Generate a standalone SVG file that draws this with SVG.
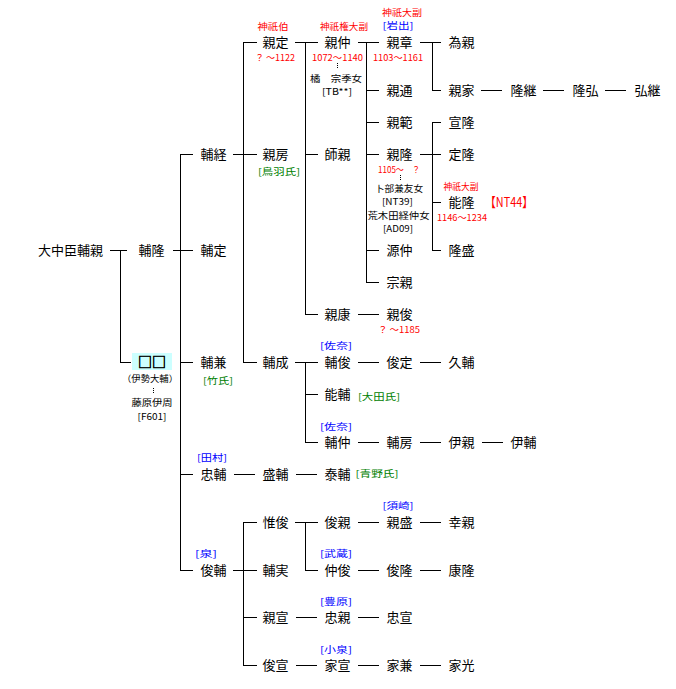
<svg xmlns="http://www.w3.org/2000/svg" width="676" height="689" viewBox="0 0 676 689">
<style>
text{font-family:"Noto Sans CJK JP","Noto Sans CJK SC",sans-serif;text-anchor:middle}
.n{font-size:13px;fill:#000}
.s{font-size:9px;fill:#000}
.r{font-size:9px;fill:#ff0000}
.b{font-size:9px;fill:#0000ff}
.g{font-size:9px;fill:#008000}
.big{font-size:13px;fill:#ff0000}
.sq{font-size:14px;fill:#000;stroke:#000;stroke-width:0.6}
#links path{fill:none;stroke:#000;stroke-width:1;shape-rendering:crispEdges}
#links path.dot{stroke-dasharray:1 1}
</style>
<rect width="676" height="689" fill="#fff"/>
<g id="links">
<path d="M110 250.5H127M120.5 250V362.5M120 362.5H131
M173 250.5H193M180.5 154V570.5M180 154.5H193M180 362.5H193M180 474.5H193M180 570.5H193
M233 154.5H257M243.5 42V362.5M243 42.5H257M243 362.5H257
M295 42.5H318M305.5 42V314.5M305 154.5H318M305 314.5H318
M358 42.5H379M366.5 42V282.5M366 90.5H379M366 122.5H379M366 154.5H379M366 250.5H379M366 282.5H379
M420 42.5H441M432.5 42V90.5M432 90.5H441
M420 154.5H441M432.5 122V250.5M432 122.5H441M432 202.5H441M432 250.5H441
M481 90.5H502M543 90.5H564M605 90.5H626
M358 314.5H379
M295 362.5H318M305.5 362V442.5M305 394.5H318M305 442.5H318
M358 362.5H379M420 362.5H441
M358 442.5H379M420 442.5H441M482 442.5H503
M234 474.5H255M296 474.5H317
M295 522.5H318M305.5 522V570.5M305 570.5H318
M358 522.5H379M420 522.5H441
M233 570.5H257M243.5 522V665.5M243 522.5H257M243 617.5H257M243 665.5H257
M358 570.5H379M420 570.5H441
M296 617.5H317M358 617.5H379
M296 665.5H317M358 665.5H379M420 665.5H441"/>
<path class="dot" d="M337.5 63V68M400.5 175V180M153.5 388V393"/>
</g>
<g id="n-sukechika"><text class="n" x="70.5" y="255">大中臣輔親</text></g>
<g id="n-suketaka"><text class="n" x="151.5" y="255">輔隆</text></g>
<g id="n-unknown"><rect x="132" y="353" width="40" height="17" fill="#ccffff"/><text class="sq" x="152" y="367">□□</text><text class="s" x="150" y="382" textLength="56" lengthAdjust="spacingAndGlyphs">（伊勢大輔）</text><text class="s" x="152" y="406" textLength="41" lengthAdjust="spacingAndGlyphs">藤原伊周</text><text class="s" x="152" y="420" textLength="29" lengthAdjust="spacingAndGlyphs">[F601]</text></g>
<g id="n-suketsune"><text class="n" x="213.5" y="159">輔経</text></g>
<g id="n-suketada"><text class="n" x="213.5" y="255">輔定</text></g>
<g id="n-sukekane"><text class="n" x="213.5" y="367">輔兼</text><text class="g" x="218" y="384" textLength="30" lengthAdjust="spacingAndGlyphs">[竹氏]</text></g>
<g id="n-tadasuke"><text class="b" x="212" y="461" textLength="30" lengthAdjust="spacingAndGlyphs">[田村]</text><text class="n" x="213.5" y="479">忠輔</text></g>
<g id="n-toshisuke"><text class="b" x="206" y="557" textLength="22" lengthAdjust="spacingAndGlyphs">[泉]</text><text class="n" x="213.5" y="575">俊輔</text></g>
<g id="n-chikasada"><text class="r" x="273" y="29.5" textLength="31" lengthAdjust="spacingAndGlyphs">神祇伯</text><text class="n" x="275.5" y="47">親定</text><text class="r" x="275" y="61" textLength="40" lengthAdjust="spacingAndGlyphs">？ ～1122</text></g>
<g id="n-chikafusa"><text class="n" x="275.5" y="159">親房</text><text class="g" x="279" y="175" textLength="42" lengthAdjust="spacingAndGlyphs">[鳥羽氏]</text></g>
<g id="n-sukenari"><text class="n" x="275.5" y="367">輔成</text></g>
<g id="n-morisuke"><text class="n" x="275.5" y="479">盛輔</text></g>
<g id="n-koreshun"><text class="n" x="275.5" y="527">惟俊</text></g>
<g id="n-sukezane"><text class="n" x="275.5" y="575">輔実</text></g>
<g id="n-chikanobu"><text class="n" x="275.5" y="622">親宣</text></g>
<g id="n-toshinobu"><text class="n" x="275.5" y="670">俊宣</text></g>
<g id="n-chikanaka"><text class="r" x="344" y="29.5" textLength="48" lengthAdjust="spacingAndGlyphs">神祇権大副</text><text class="n" x="337.5" y="47">親仲</text><text class="r" x="337.5" y="61" textLength="51" lengthAdjust="spacingAndGlyphs">1072～1140</text><text class="s" x="336" y="82" textLength="52" lengthAdjust="spacingAndGlyphs">橘　宗季女</text><text class="s" x="337" y="95" textLength="30" lengthAdjust="spacingAndGlyphs">[TB**]</text></g>
<g id="n-morochika"><text class="n" x="337.5" y="159">師親</text></g>
<g id="n-chikayasu"><text class="n" x="337.5" y="319">親康</text></g>
<g id="n-suketoshi"><text class="b" x="336" y="349" textLength="32" lengthAdjust="spacingAndGlyphs">[佐奈]</text><text class="n" x="337.5" y="367">輔俊</text></g>
<g id="n-yoshisuke"><text class="n" x="337.5" y="399">能輔</text><text class="g" x="379" y="400" textLength="42" lengthAdjust="spacingAndGlyphs">[大田氏]</text></g>
<g id="n-sukenaka"><text class="b" x="336" y="430" textLength="32" lengthAdjust="spacingAndGlyphs">[佐奈]</text><text class="n" x="337.5" y="447">輔仲</text></g>
<g id="n-yasusuke"><text class="n" x="337.5" y="479">泰輔</text><text class="g" x="377" y="477" textLength="43" lengthAdjust="spacingAndGlyphs">[青野氏]</text></g>
<g id="n-toshichika"><text class="n" x="337.5" y="527">俊親</text></g>
<g id="n-nakatoshi"><text class="b" x="336" y="557" textLength="32" lengthAdjust="spacingAndGlyphs">[武蔵]</text><text class="n" x="337.5" y="575">仲俊</text></g>
<g id="n-tadachika"><text class="b" x="336" y="605" textLength="32" lengthAdjust="spacingAndGlyphs">[豊原]</text><text class="n" x="337.5" y="622">忠親</text></g>
<g id="n-ienobu"><text class="b" x="336" y="653" textLength="32" lengthAdjust="spacingAndGlyphs">[小泉]</text><text class="n" x="337.5" y="670">家宣</text></g>
<g id="n-chikaaki"><text class="r" x="402" y="16" textLength="40" lengthAdjust="spacingAndGlyphs">神祇大副</text><text class="b" x="398" y="29" textLength="31" lengthAdjust="spacingAndGlyphs">[岩出]</text><text class="n" x="399.5" y="47">親章</text><text class="r" x="398" y="61" textLength="50" lengthAdjust="spacingAndGlyphs">1103～1161</text></g>
<g id="n-chikamichi"><text class="n" x="399.5" y="95">親通</text></g>
<g id="n-chikanori"><text class="n" x="399.5" y="127">親範</text></g>
<g id="n-chikataka"><text class="n" x="399.5" y="159">親隆</text><text class="r" x="399" y="173" textLength="42" lengthAdjust="spacingAndGlyphs">1105～　？</text><text class="s" x="399" y="192" textLength="48" lengthAdjust="spacingAndGlyphs">卜部兼友女</text><text class="s" x="397.5" y="205" textLength="31" lengthAdjust="spacingAndGlyphs">[NT39]</text><text class="s" x="398.5" y="219" textLength="62" lengthAdjust="spacingAndGlyphs">荒木田経仲女</text><text class="s" x="398" y="232" textLength="30" lengthAdjust="spacingAndGlyphs">[AD09]</text></g>
<g id="n-minamotonaka"><text class="n" x="399.5" y="255">源仲</text></g>
<g id="n-munechika"><text class="n" x="399.5" y="287">宗親</text></g>
<g id="n-chikatoshi"><text class="n" x="399.5" y="319">親俊</text><text class="r" x="399" y="333" textLength="42" lengthAdjust="spacingAndGlyphs">？ ～1185</text></g>
<g id="n-toshisada"><text class="n" x="399.5" y="367">俊定</text></g>
<g id="n-sukefusa"><text class="n" x="399.5" y="447">輔房</text></g>
<g id="n-chikamori"><text class="b" x="398" y="509" textLength="31" lengthAdjust="spacingAndGlyphs">[須崎]</text><text class="n" x="399.5" y="527">親盛</text></g>
<g id="n-toshitaka"><text class="n" x="399.5" y="575">俊隆</text></g>
<g id="n-tadanobu"><text class="n" x="399.5" y="622">忠宣</text></g>
<g id="n-iekane"><text class="n" x="399.5" y="670">家兼</text></g>
<g id="n-tamechika"><text class="n" x="461.5" y="47">為親</text></g>
<g id="n-chikaie"><text class="n" x="461.5" y="95">親家</text></g>
<g id="n-nobutaka"><text class="n" x="461.5" y="127">宣隆</text></g>
<g id="n-sadataka"><text class="n" x="461.5" y="159">定隆</text></g>
<g id="n-yoshitaka"><text class="r" x="461" y="190" textLength="35" lengthAdjust="spacingAndGlyphs">神祇大副</text><text class="n" x="461.5" y="207">能隆</text><text class="big" x="509" y="207" textLength="48" lengthAdjust="spacingAndGlyphs">【NT44】</text><text class="r" x="462" y="221" textLength="50" lengthAdjust="spacingAndGlyphs">1146～1234</text></g>
<g id="n-takamori"><text class="n" x="461.5" y="255">隆盛</text></g>
<g id="n-hisasuke"><text class="n" x="461.5" y="367">久輔</text></g>
<g id="n-korechika"><text class="n" x="461.5" y="447">伊親</text></g>
<g id="n-yukichika"><text class="n" x="461.5" y="527">幸親</text></g>
<g id="n-yasutaka"><text class="n" x="461.5" y="575">康隆</text></g>
<g id="n-iemitsu"><text class="n" x="461.5" y="670">家光</text></g>
<g id="n-takatsugu"><text class="n" x="523.5" y="95">隆継</text></g>
<g id="n-koresuke"><text class="n" x="523.5" y="447">伊輔</text></g>
<g id="n-takahiro"><text class="n" x="585.5" y="95">隆弘</text></g>
<g id="n-hirotsugu"><text class="n" x="647.5" y="95">弘継</text></g>
</svg>
